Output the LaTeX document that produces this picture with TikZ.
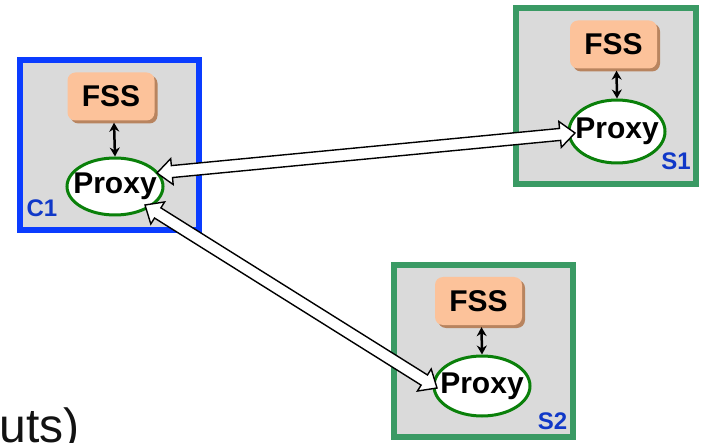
\documentclass[tikz,border=0pt]{standalone}
\usepackage{fontspec}
\setmainfont{Liberation Sans}
\usetikzlibrary{shapes.geometric,arrows.meta,calc}
\definecolor{boxgray}{HTML}{DADADA}
\definecolor{clientblue}{HTML}{0A3CFF}
\definecolor{servergreen}{HTML}{3A9A64}
\definecolor{fssfill}{HTML}{FCC29A}
\definecolor{fssshadow}{HTML}{B8845F}
\definecolor{proxygreen}{HTML}{0A800A}
\definecolor{labelblue}{HTML}{1038C8}
\tikzset{
  host/.style={draw, line width=6pt, fill=boxgray, inner sep=0pt},
  fssbox/.style={fill=fssfill, rounded corners=8pt, minimum width=87pt,
    minimum height=48pt, inner sep=0pt, font=\fontsize{30}{30}\selectfont\bfseries},
  fssshade/.style={fill=fssshadow, rounded corners=8pt, minimum width=87pt,
    minimum height=48pt, inner sep=0pt},
  proxy/.style={ellipse, draw=proxygreen, line width=3pt, fill=white,
    minimum width=96pt, inner sep=0pt},
  proxytext/.style={inner sep=0pt, font=\fontsize{30}{30}\selectfont\bfseries},
  hostlabel/.style={inner sep=0pt, text=labelblue, font=\fontsize{24}{24}\selectfont\bfseries},
  link/.style={line width=2.5pt, {Stealth[length=9pt,width=10pt]}-{Stealth[length=9pt,width=10pt]}},
  channel/.style={draw=black, line width=1.4pt, fill=white, line join=miter}
}
% hollow two-headed arrow from #1 to #2 (head length 15pt, head half-width 13pt, shaft half-width 6pt)
\newcommand\channelarrow[2]{%
  \path[channel] (#1)
    -- ($(#1)!15pt!(#2)!13pt!90:(#2)$)
    -- ($(#1)!15pt!(#2)!6pt!90:(#2)$)
    -- ($(#2)!15pt!(#1)!6pt!-90:(#1)$)
    -- ($(#2)!15pt!(#1)!13pt!-90:(#1)$)
    -- (#2)
    -- ($(#2)!15pt!(#1)!13pt!90:(#1)$)
    -- ($(#2)!15pt!(#1)!6pt!90:(#1)$)
    -- ($(#1)!15pt!(#2)!6pt!-90:(#2)$)
    -- ($(#1)!15pt!(#2)!13pt!-90:(#2)$)
    -- cycle;}
\begin{document}
\begin{tikzpicture}[x=1pt,y=-1pt]
\useasboundingbox[fill=white] (0,0) rectangle (703,443);

% hosts
\node[host, draw=clientblue, minimum width=179pt, minimum height=170pt] (c1) at (109.5,145) {};
\node[host, draw=servergreen, minimum width=180pt, minimum height=176pt] (s1) at (606,96) {};
\node[host, draw=servergreen, minimum width=179pt, minimum height=172pt] (s2) at (483.5,351) {};

% file system services with drop shadow
\node[fssshade] (c1sh) at (114,99.5) {};
\node[fssbox] (c1fss) at (111,96.5) {FSS};
\node[fssshade] (s1sh) at (616.5,47.5) {};
\node[fssbox] (s1fss) at (613.5,44.5) {FSS};
\node[fssshade] (s2sh) at (481.5,304) {};
\node[fssbox] (s2fss) at (478.5,301) {FSS};

% proxies
\node[proxy, minimum height=57pt] (c1p) at (115,186.5) {};
\node[proxytext] (c1pt) at (c1p) {Proxy};
\node[proxy, minimum height=63pt] (s1p) at (617,131.5) {};
\node[proxytext] (s1pt) at (s1p) {Proxy};
\node[proxy, minimum height=60pt] (s2p) at (482,386) {};
\node[proxytext] (s2pt) at (s2p) {Proxy};

% host labels
\node[hostlabel] (c1l) at (42,208.5) {C1};
\node[hostlabel] (s1l) at (676,161) {S1};
\node[hostlabel] (s2l) at (552.5,421) {S2};

% FSS <-> proxy
\draw[link] ($(c1fss.south)+(3,2)$) -- (c1p.north);
\draw[link] ($(s1fss.south)+(3,2)$) -- (s1p.north);
\draw[link] ($(s2fss.south)+(3,2)$) -- (s2p.north);

% proxy <-> proxy channels
\coordinate (t1) at ($(c1p)+(42,-13.5)$);
\coordinate (t2) at ($(s1p)+(-42,1.5)$);
\coordinate (t3) at ($(c1p)+(30,18.5)$);
\coordinate (t4) at ($(s2p)+(-45,2)$);
\channelarrow{t1}{t2}
\channelarrow{t3}{t4}

% text cut off at the lower left
\node[anchor=base east, inner sep=0pt, text=black!93, font=\fontsize{48}{48}\selectfont] (frag) at (80,442) {uts)};
\end{tikzpicture}
\end{document}
